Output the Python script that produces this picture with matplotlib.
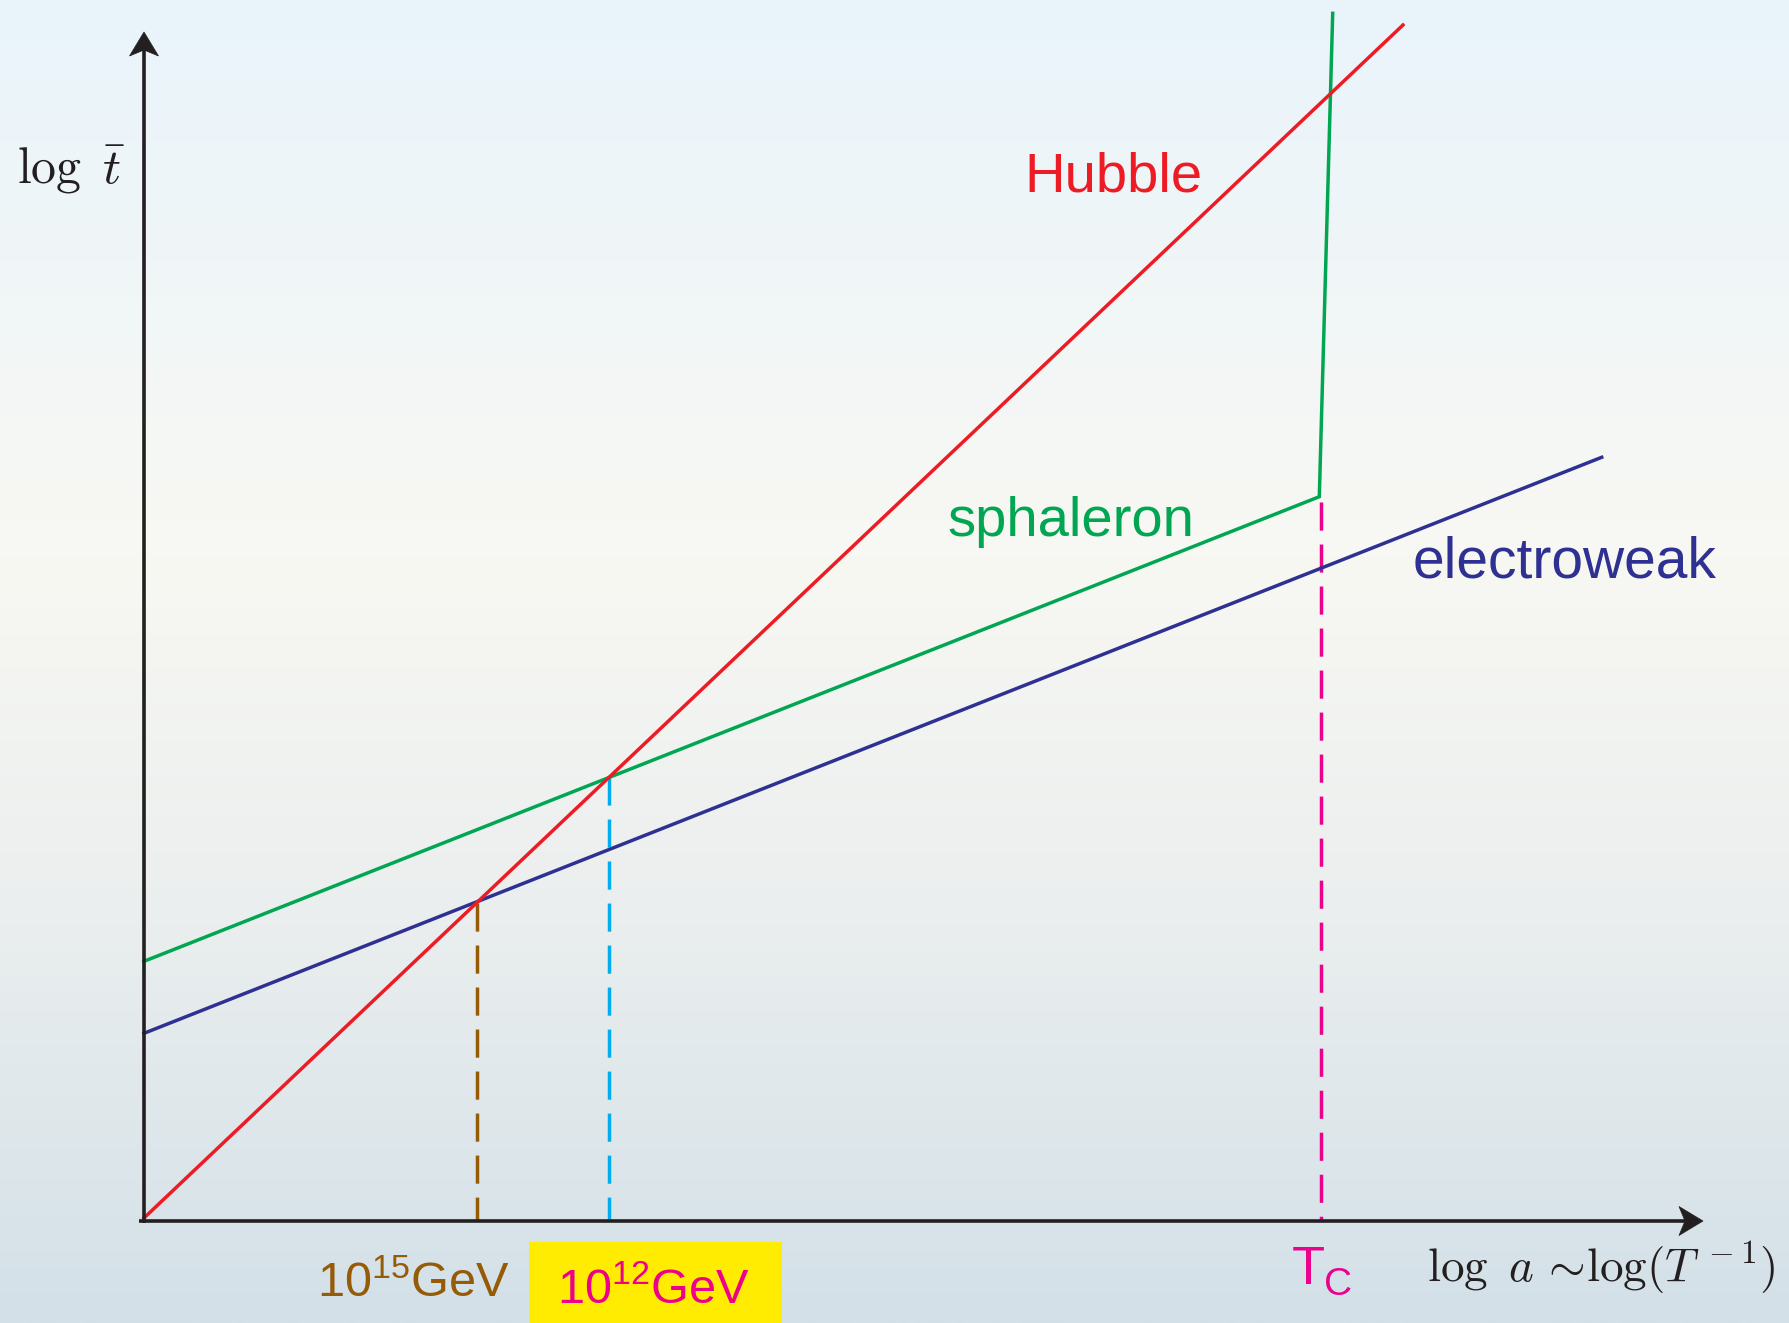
import numpy as np
import matplotlib
matplotlib.use("Agg")
import matplotlib.pyplot as plt
from matplotlib.patches import Polygon, Rectangle
from matplotlib.colors import LinearSegmentedColormap

# ---- data (x = log a, y = log t-bar, arbitrary units) ----
hubble_x = [0.0, 12.59]
hubble_y = [0.03, 11.96]

sphaleron_x = [0.0, 11.753, 11.887]
sphaleron_y = [2.597, 7.243, 12.077]

electroweak_x = [0.0, 14.577]
electroweak_y = [1.877, 7.637]

# vertical markers: 10^15 GeV, 10^12 GeV, T_C
marker_x = [3.33, 4.65, 11.77]
marker_top = [3.18, 4.44, 7.19]
marker_colors = ["#955B06", "#00AEEF", "#EC008C"]

# ---- styling ----
RED = "#ED1C24"
GREEN = "#00A651"
NAVY = "#2E3192"
MAGENTA = "#EC008C"
BROWN = "#955B06"
YELLOW = "#FFEC00"
INK = "#231F20"

plt.rcParams["mathtext.fontset"] = "custom"
plt.rcParams["mathtext.rm"] = "Liberation Sans"
plt.rcParams["mathtext.it"] = "Liberation Sans:italic"
plt.rcParams["mathtext.bf"] = "Liberation Sans:bold"
SANS = "Liberation Sans"

fig = plt.figure(figsize=(17.89, 13.23), dpi=100)
ax = fig.add_axes([0, 0, 1, 1])
xmin, xmax = -1.44, 16.45
ymin, ymax = -1.02, 12.21
ax.set_xlim(xmin, xmax)
ax.set_ylim(ymin, ymax)
ax.axis("off")

# background vertical gradient
stops = [(0.0, (233/255, 244/255, 251/255)),
         (0.42, (248/255, 248/255, 243/255)),
         (0.70, (234/255, 238/255, 238/255)),
         (1.0, (211/255, 224/255, 232/255))]
cmap = LinearSegmentedColormap.from_list("bg", stops)
grad = np.linspace(0, 1, 512).reshape(-1, 1)
ax.imshow(grad, cmap=cmap, extent=[xmin, xmax, ymin, ymax], origin="upper",
          aspect="auto", zorder=0, interpolation="bicubic")

# yellow highlight box behind the 10^12 GeV label
ax.add_patch(Rectangle((3.85, ymin), 2.53, -0.21 - ymin, facecolor=YELLOW,
                       edgecolor="none", zorder=1))


def stealth_axis(start, tip, lw=2.6, L=0.24, W=0.145, notch=0.06):
    start = np.asarray(start, float)
    tip = np.asarray(tip, float)
    d = (tip - start) / np.linalg.norm(tip - start)
    n = np.array([-d[1], d[0]])
    back = tip - (L - notch) * d
    ax.plot([start[0], back[0]], [start[1], back[1]], color=INK, lw=lw,
            solid_capstyle="butt", zorder=5)
    pts = [tip, tip - L * d + W * n, back, tip - L * d - W * n]
    ax.add_patch(Polygon(pts, closed=True, facecolor=INK, edgecolor=INK,
                         lw=0.5, zorder=5))


stealth_axis((-0.05, 0.0), (15.59, 0.0))
stealth_axis((0.0, -0.02), (0.0, 11.89))

lw = 2.5
ax.plot(hubble_x, hubble_y, color=RED, lw=lw, zorder=4)
ax.plot(sphaleron_x, sphaleron_y, color=GREEN, lw=lw, zorder=3,
        solid_joinstyle="miter")
ax.plot(electroweak_x, electroweak_y, color=NAVY, lw=lw, zorder=3)

for mx, mt, mc in zip(marker_x, marker_top, marker_colors):
    ax.plot([mx, mx], [mt, 0.0], color=mc, lw=lw, zorder=2,
            linestyle=(0, (8.1, 4.0)), dash_capstyle="butt")

# curve labels
ax.text(8.80, 10.30, "Hubble", color=RED, fontsize=40.5, family=SANS,
        ha="left", va="baseline")
ax.text(8.03, 6.85, "sphaleron", color=GREEN, fontsize=40.5, family=SANS,
        ha="left", va="baseline")
ax.text(12.69, 6.44, "electroweak", color=NAVY, fontsize=41, family=SANS,
        ha="left", va="baseline")

# energy-scale labels
ax.text(1.73, -0.76, r"10$^{\mathrm{15}}$GeV", color=BROWN, fontsize=35,
        family=SANS, ha="left", va="baseline", zorder=6)
ax.text(4.13, -0.82, r"10$^{\mathrm{12}}$GeV", color=MAGENTA, fontsize=35,
        family=SANS, ha="left", va="baseline", zorder=6)
ax.text(11.48, -0.63, "T", color=MAGENTA, fontsize=39, family=SANS,
        ha="left", va="baseline", zorder=6)
ax.text(11.80, -0.74, "C", color=MAGENTA, fontsize=28, family=SANS,
        ha="left", va="baseline", zorder=6)

# axis titles
ax.text(-1.27, 10.38, r"$\log\ \bar{t}$", color=INK, fontsize=36,
        math_fontfamily="cm", ha="left", va="baseline")
ax.text(12.83, -0.61, r"$\log\ a\,{\sim}\!\log(T^{\,-1})$", color=INK,
        fontsize=34, math_fontfamily="cm", ha="left", va="baseline")

fig.savefig("out.png", dpi=100)
